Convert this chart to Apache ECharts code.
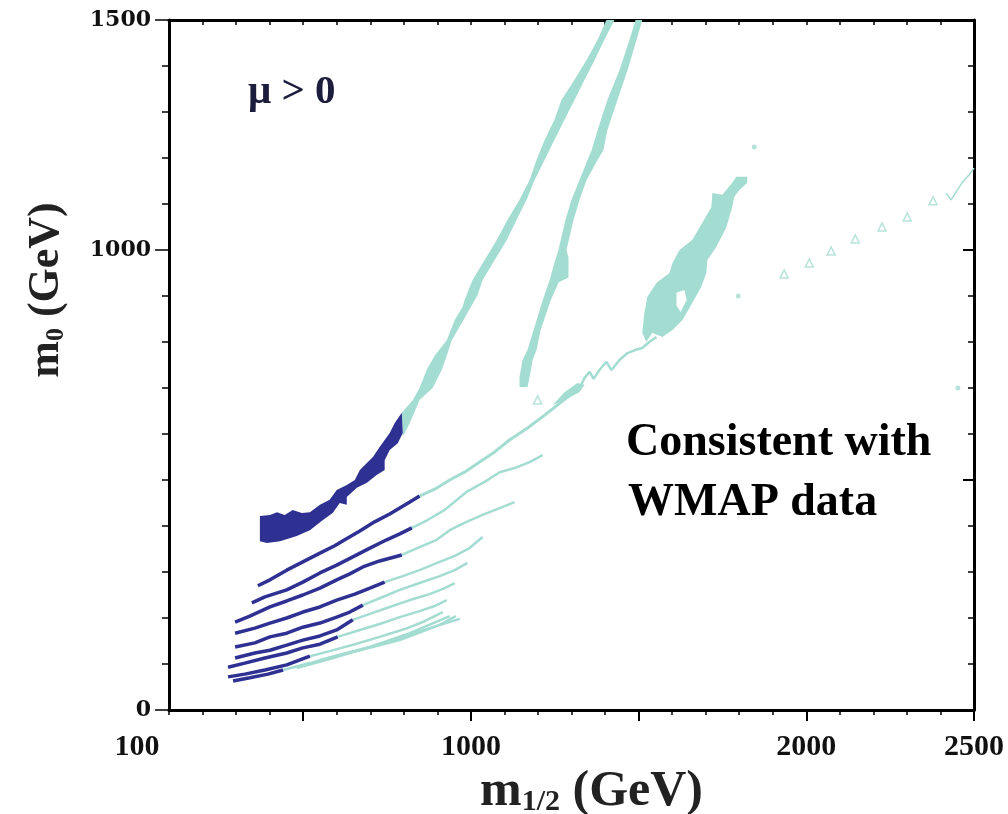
<!DOCTYPE html>
<html><head><meta charset="utf-8">
<script src="https://cdn.jsdelivr.net/npm/echarts@6/dist/echarts.min.js"></script>
<style>html,body{margin:0;padding:0;background:#fff}#c{width:1008px;height:814px}</style>
</head><body><div id="c"></div>
<script>
// ---- tick labels ----
const xTickLabels = [100, 1000, 2000, 2500];
const yTickLabels = [0, 1000, 1500];
const xMajorTicks = [500, 1000, 1500, 2000, 2500];

// ---- regions (m1/2, m0) in GeV ----
const navyBlob = [[371,422],[401,424],[422,430],[445,424],[469,435],[496,428],[520,430],[550,446],[579,457],[600,478],[630,489],[654,500],[669,522],[690,537],[708,550],[728,572],[758,602],[773,624],[794,646],
  [797,602],[782,580],[758,565],[743,543],[743,522],[719,511],[690,494],[660,483],[630,463],[630,446],[609,450],[588,428],[559,413],[520,391],[481,378],[431,367],[392,363],[371,367]];
const tealBand1 = [[794,646],[827,674],[847,700],[868,739],[892,770],[928,804],[952,848],[975,876],[981,891],[1005,935],[1041,978],[1077,1022],[1109,1065],[1145,1109],[1175,1152],[1196,1196],[1220,1239],[1249,1283],[1270,1326],[1309,1370],[1345,1413],[1378,1457],[1404,1500],
  [1428,1500],[1398,1457],[1369,1413],[1339,1370],[1309,1326],[1279,1283],[1249,1239],[1220,1196],[1190,1152],[1166,1109],[1136,1065],[1107,1022],[1071,978],[1035,935],[1020,902],[978,848],[943,804],[928,770],[913,739],[886,700],[847,674],[818,624],[797,594]];
const tealBand2 = [[1145,702],[1145,724],[1154,761],[1169,783],[1187,826],[1214,891],[1235,935],[1249,972],[1261,1000],[1282,1065],[1300,1109],[1324,1152],[1348,1196],[1360,1217],[1378,1261],[1407,1326],[1443,1391],[1473,1457],[1491,1500],
  [1511,1500],[1494,1457],[1467,1391],[1437,1326],[1407,1261],[1395,1217],[1378,1196],[1345,1152],[1324,1109],[1306,1065],[1285,1000],[1291,983],[1291,940],[1262,930],[1238,891],[1208,826],[1196,783],[1184,761],[1175,724],[1169,702]];
const tealBlob = [[1511,820],[1517,863],[1526,898],[1553,928],[1592,950],[1601,972],[1622,1000],[1660,1022],[1690,1059],[1717,1093],[1720,1124],[1750,1120],[1779,1146],[1791,1159],[1824,1159],[1824,1146],[1800,1130],[1785,1115],[1779,1093],[1762,1050],[1732,1007],[1705,978],[1702,950],[1687,920],[1660,885],[1631,848],[1601,826],[1571,811],[1541,820],[1523,800]];
const blobHole = [[1613,907],[1637,913],[1643,891],[1625,865],[1613,880]];
const tealSliver = [[1244,663],[1279,691],[1318,711],[1339,707],[1324,691],[1279,674]];

// ---- contour strips: navy part then teal continuation ----
const navyA = [[365,270],[401,283],[451,304],[499,322],[550,341],[594,357],[624,370],[669,389],[713,409],[758,426],[788,439],[818,452],[847,465]];
const tealA = [[847,465],[892,480],[937,500],[981,517],[1026,539],[1071,561],[1115,587],[1169,613],[1220,641],[1270,670],[1324,700]];
const squiggle = [[1324,700],[1339,722],[1354,735],[1366,720],[1383,739],[1404,757],[1419,739],[1443,761],[1467,776],[1491,783],[1511,787],[1532,800],[1553,811]];
const navyB = [[347,233],[386,246],[451,261],[499,278],[550,298],[600,315],[648,333],[699,352],[749,370],[788,383],[824,396]];
const tealB = [[824,396],[871,413],[922,435],[987,474],[1041,496],[1086,517],[1130,526],[1175,539],[1214,554]];
const navyC = [[297,191],[341,204],[401,224],[451,237],[499,250],[550,265],[600,283],[639,296],[678,311],[728,324],[794,337]];
const tealC = [[794,337],[847,354],[898,370],[937,391],[987,409],[1035,424],[1086,439],[1130,452]];
const navyD = [[297,167],[356,178],[401,189],[451,200],[499,213],[550,224],[600,239],[654,252],[699,265],[743,278]];
const tealD = [[743,278],[797,291],[847,304],[907,322],[952,335],[996,352],[1035,376]];
const navyE = [[297,137],[356,146],[401,159],[451,167],[499,180],[550,189],[600,202],[639,213],[678,228]];
const tealE = [[678,228],[728,243],[788,261],[847,276],[907,291],[952,304],[990,320]];
const navyF = [[297,113],[356,124],[401,130],[451,141],[499,152],[550,161],[600,174],[648,196]];
const tealF = [[648,196],[699,209],[758,224],[818,239],[877,252],[922,265],[952,276]];
const navyG = [[276,93],[326,102],[386,113],[451,124],[499,135],[550,143],[603,159]];
const tealG = [[603,159],[669,174],[728,187],[788,202],[847,215],[892,226],[928,239]];
const navyH = [[276,72],[326,78],[386,87],[451,98],[520,117]];
const tealH = [[520,117],[579,128],[654,143],[728,159],[803,176],[862,193],[916,213]];
const navyI = [[291,63],[341,70],[395,78],[440,87]];
const tealI = [[440,87],[520,102],[609,120],[699,137],[788,157],[877,178],[967,198]];
const tealJ = [[481,91],[579,111],[699,137],[818,167],[937,204]];
const tealK = [[549,109],[669,130],[788,152],[907,185],[955,204]];
const tealHook = [[2417,1124],[2432,1109],[2441,1120],[2464,1146],[2485,1163],[2500,1178]];
const tealOpenPts = [[1934,948],[2009,972],[2074,998],[2146,1024],[2226,1050],[2301,1072],[2378,1107],[1199,674]];
const tealDots = [[1845,1224],[1797,900],[2452,700]];

const TEAL = '#a3dcd1';
const NAVY = '#2e3192';
const SERIF = "'Liberation Serif', 'Times New Roman', serif";

function poly(points, color, z) {
  return { type: 'custom', coordinateSystem: 'cartesian2d', silent: true, animation: false, z: z || 2,
    data: [points[0]],
    renderItem: function (params, api) {
      return { type: 'polygon', shape: { points: points.map(p => api.coord(p)) }, style: { fill: color } };
    } };
}
function line(data, color, width, z) {
  return { type: 'line', data: data, showSymbol: false, symbol: 'none', silent: true, animation: false,
    z: z || 3, lineStyle: { color: color, width: width } };
}

const chart = echarts.init(document.getElementById('c'), null, { renderer: 'canvas' });
const axisBlack = { color: '#000', width: 3 };
const xBase = { type: 'value', min: 100, max: 2500, splitLine: { show: false } };
const yBase = { type: 'value', min: 0, max: 1500, splitLine: { show: false } };

chart.setOption({
  backgroundColor: '#fff',
  animation: false,
  grid: { left: 169, right: 34, top: 20, bottom: 104, containLabel: false, outerBoundsMode: 'none' },
  xAxis: [
    Object.assign({}, xBase, { position: 'bottom', interval: 100,
      axisLine: { show: true, onZero: false, lineStyle: axisBlack },
      axisTick: { show: true, inside: false, length: 5, lineStyle: { color: '#000', width: 1.5 } },
      axisLabel: { margin: 22, color: '#111',
        formatter: v => xTickLabels.includes(v) ? (v === 100 ? '{p|100}' : '{n|' + v + '}') : '',
        rich: { n: { fontFamily: SERIF, fontWeight: 'bold', fontSize: 30, color: '#111' },
                p: { fontFamily: SERIF, fontWeight: 'bold', fontSize: 30, color: '#111', padding: [0, 64, 0, 0] } } },
      name: '{m|m}{s|1/2}{m| (GeV)}', nameLocation: 'middle', nameGap: 50,
      nameTextStyle: { padding: [0, 0, 0, 40], rich: {
        m: { fontFamily: SERIF, fontWeight: 'bold', fontSize: 50, color: '#222' },
        s: { fontFamily: SERIF, fontWeight: 'bold', fontSize: 30, color: '#222', verticalAlign: 'bottom', lineHeight: 12 } } } }),
    Object.assign({}, xBase, { position: 'bottom', axisLine: { show: false },
      axisTick: { show: true, inside: false, length: 10, customValues: xMajorTicks, lineStyle: { color: '#000', width: 2 } },
      axisLabel: { show: false } }),
    Object.assign({}, xBase, { position: 'top', interval: 100,
      axisLine: { show: true, onZero: false, lineStyle: axisBlack },
      axisTick: { show: true, inside: true, length: 5, lineStyle: { color: '#000', width: 1.5 } },
      axisLabel: { show: false } }),
    Object.assign({}, xBase, { position: 'top', axisLine: { show: false },
      axisTick: { show: true, inside: true, length: 11, customValues: xMajorTicks, lineStyle: { color: '#000', width: 2 } },
      axisLabel: { show: false } })
  ],
  yAxis: [
    Object.assign({}, yBase, { position: 'left', interval: 100,
      axisLine: { show: true, onZero: false, lineStyle: axisBlack },
      axisTick: { show: true, inside: false, length: 7, lineStyle: { color: '#000', width: 1.5 } },
      axisLabel: { margin: 18, fontFamily: "'DejaVu Serif', serif", fontWeight: 'bold', fontSize: 22, color: '#111',
        formatter: v => yTickLabels.includes(v) ? String(v) : '' },
      name: '{m|m}{s|0}{m| (GeV)}', nameLocation: 'middle', nameGap: 100,
      nameTextStyle: { padding: [0, 0, 0, 150], rich: {
        m: { fontFamily: SERIF, fontWeight: 'bold', fontSize: 44, color: '#222' },
        s: { fontFamily: SERIF, fontWeight: 'bold', fontSize: 26, color: '#222', verticalAlign: 'bottom', lineHeight: 13 } } } }),
    Object.assign({}, yBase, { position: 'left', axisLine: { show: false },
      axisTick: { show: true, inside: false, length: 14, customValues: yTickLabels, lineStyle: { color: '#000', width: 1.5 } },
      axisLabel: { show: false } }),
    Object.assign({}, yBase, { position: 'right', interval: 100,
      axisLine: { show: true, onZero: false, lineStyle: axisBlack },
      axisTick: { show: true, inside: true, length: 6, lineStyle: { color: '#000', width: 1.5 } },
      axisLabel: { show: false } }),
    Object.assign({}, yBase, { position: 'right', axisLine: { show: false },
      axisTick: { show: true, inside: true, length: 11, customValues: [500, 1000], lineStyle: { color: '#000', width: 2 } },
      axisLabel: { show: false } })
  ],
  graphic: [
    { type: 'text', left: 248, top: 72, style: { text: 'μ > 0', font: "bold 41px 'Liberation Serif', serif", fill: '#1c1c3c' } },
    { type: 'text', left: 626, top: 420, style: { text: 'Consistent with', font: "bold 46px 'Liberation Serif', serif", fill: '#000' } },
    { type: 'text', left: 628, top: 480, style: { text: 'WMAP data', font: "bold 46px 'Liberation Serif', serif", fill: '#000' } }
  ],
  series: [
    poly(tealBand1, TEAL), poly(tealBand2, TEAL), poly(tealBlob, TEAL), poly(blobHole, '#fff', 3), poly(tealSliver, TEAL),
    line(tealA, TEAL, 3), line(squiggle, TEAL, 2.5), line(tealB, TEAL, 2.5), line(tealC, TEAL, 2.5), line(tealD, TEAL, 2.5),
    line(tealE, TEAL, 2.5), line(tealF, TEAL, 2.5), line(tealG, TEAL, 2.5), line(tealH, TEAL, 2.5), line(tealI, TEAL, 2.5),
    line(tealJ, TEAL, 2.5), line(tealK, TEAL, 2.5), line(tealHook, TEAL, 1.5),
    poly(navyBlob, NAVY, 4),
    line(navyA, NAVY, 3.5, 5), line(navyB, NAVY, 3.5, 5), line(navyC, NAVY, 3.5, 5), line(navyD, NAVY, 3.5, 5), line(navyE, NAVY, 3.5, 5),
    line(navyF, NAVY, 3.5, 5), line(navyG, NAVY, 3.5, 5), line(navyH, NAVY, 3.5, 5), line(navyI, NAVY, 3.5, 5),
    { type: 'scatter', data: tealOpenPts, symbol: 'triangle', symbolSize: 8, silent: true, animation: false,
      itemStyle: { color: '#fff', borderColor: TEAL, borderWidth: 1.5 } },
    { type: 'scatter', data: tealDots, symbol: 'circle', symbolSize: 5, silent: true, animation: false,
      itemStyle: { color: TEAL } }
  ]
});
</script>
</body></html>
